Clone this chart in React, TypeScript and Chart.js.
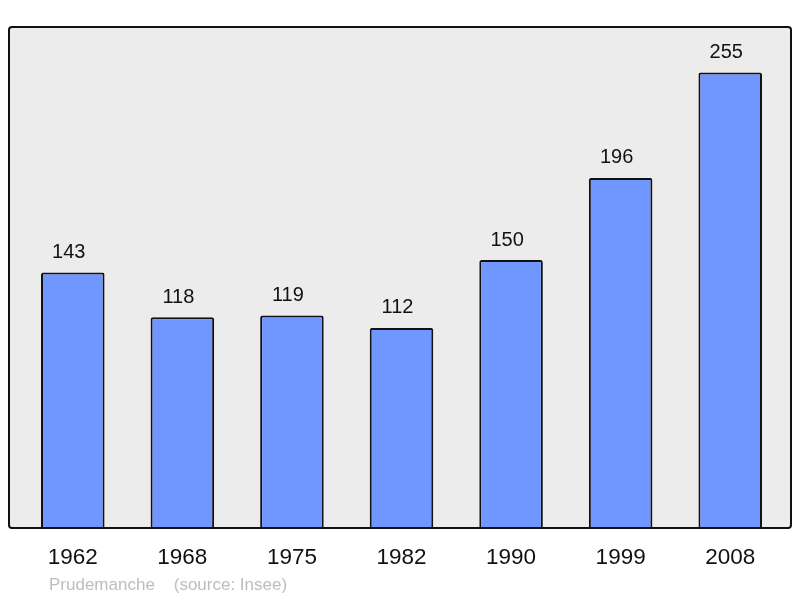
import React, { useEffect, useRef } from "react";
import { Chart, registerables } from "chart.js";

Chart.register(...registerables);

const years: string[] = ["1962", "1968", "1975", "1982", "1990", "1999", "2008"];
const population: number[] = [143, 118, 119, 112, 150, 196, 255];
const footerName = "Prudemanche";
const footerSource = "(source: Insee)";

const FONT = "'Liberation Sans', Arial, sans-serif";

const decorPlugin = {
  id: "decor",
  beforeDraw(chart: any) {
    const { ctx, chartArea } = chart;
    const left = 9, top = 27, right = 791, bottom = chartArea.bottom;
    ctx.save();
    ctx.fillStyle = "#ececec";
    ctx.beginPath();
    ctx.roundRect(left, top, right - left, bottom - top, 3);
    ctx.fill();
    ctx.restore();
  },
  afterDatasetsDraw(chart: any) {
    const { ctx, chartArea } = chart;
    const left = 9, top = 27, right = 791, bottom = chartArea.bottom;
    ctx.save();
    ctx.strokeStyle = "#111";
    ctx.lineWidth = 2;
    ctx.beginPath();
    ctx.roundRect(left, top, right - left, bottom - top, 3);
    ctx.stroke();

    const meta = chart.getDatasetMeta(0);
    ctx.fillStyle = "#111";
    ctx.textAlign = "center";
    ctx.textBaseline = "middle";
    meta.data.forEach((bar: any, i: number) => {
      ctx.font = `20px ${FONT}`;
      ctx.fillText(String(population[i]), bar.x - 4, bar.y - 20);
      ctx.font = `22.5px ${FONT}`;
      ctx.fillText(years[i], bar.x, chartArea.bottom + 30);
    });

    ctx.font = `17px ${FONT}`;
    ctx.fillStyle = "#bdbdbd";
    ctx.textAlign = "left";
    ctx.fillText(footerName + "    " + footerSource, 49, 585);
    ctx.restore();
  },
};

export default function App() {
  const ref = useRef<HTMLCanvasElement | null>(null);
  useEffect(() => {
    if (!ref.current) return;
    const chart = new Chart(ref.current, {
      type: "bar",
      data: {
        labels: years,
        datasets: [
          {
            data: population,
            backgroundColor: "#7096ff",
            borderColor: "#111",
            borderWidth: 2,
            borderSkipped: "bottom",
            borderRadius: { topLeft: 2, topRight: 2, bottomLeft: 0, bottomRight: 0 },
            categoryPercentage: 1,
            barPercentage: 0.58,
          },
        ],
      },
      options: {
        responsive: false,
        animation: false,
        layout: { padding: { left: 18, right: 15, top: 27, bottom: 70 } },
        plugins: { legend: { display: false }, tooltip: { enabled: false } },
        scales: {
          x: { display: false },
          y: { display: false, min: 0, max: 280.5 },
        },
      },
      plugins: [decorPlugin],
    });
    return () => chart.destroy();
  }, []);
  return (
    <div style={{ position: "fixed", left: 0, top: 0, width: 800, height: 598, background: "#fff" }}>
      <canvas ref={ref} width={800} height={598} />
    </div>
  );
}
